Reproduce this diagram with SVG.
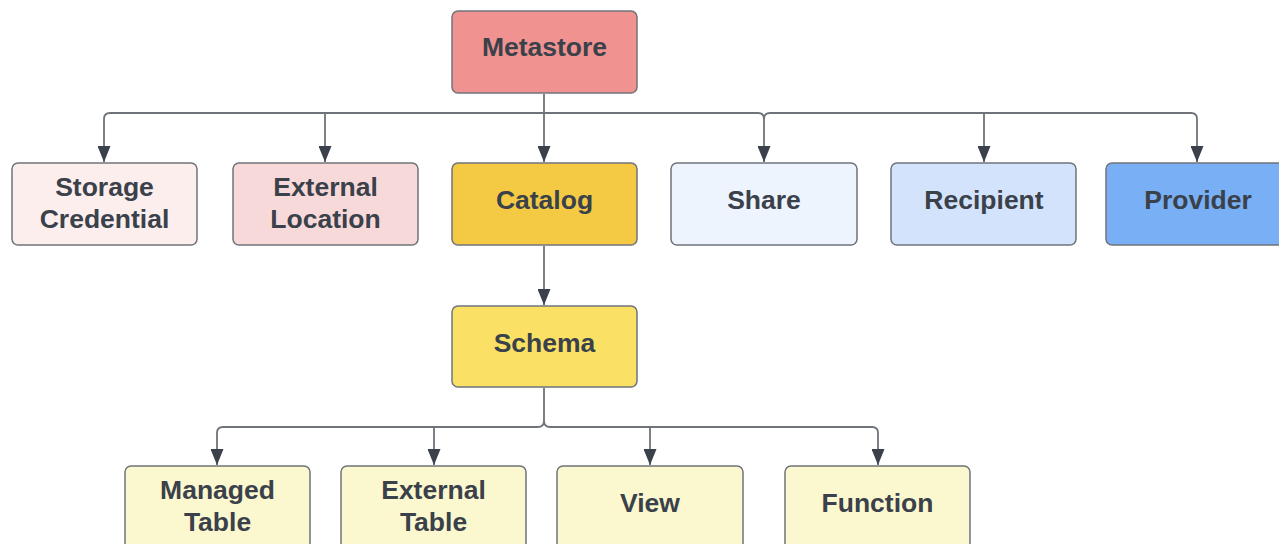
<svg xmlns="http://www.w3.org/2000/svg" width="1279" height="544" viewBox="0 0 1279 544">
<defs>
<style>
.box{stroke:#6f747b;stroke-width:1.5}
.lbl{font-family:"Liberation Sans",Arial,sans-serif;font-weight:bold;font-size:26.5px;fill:#3a414a;text-anchor:middle}
.ln{fill:none;stroke:#6f747b;stroke-width:1.8}
</style>
<marker id="ah" markerWidth="16" markerHeight="13" refX="16" refY="6.5" orient="auto" markerUnits="userSpaceOnUse" viewBox="0 0 16 13">
<path d="M0,0 L16,6.5 L0,13 Z" fill="#3a414a"/>
</marker>
</defs>
<rect width="1279" height="544" fill="#ffffff"/>
<g id="connectors">
<path class="ln" d="M544,94 V113"/>
<path class="ln" d="M544,113 V162" marker-end="url(#ah)"/>
<path class="ln" d="M758,113 H110 Q104,113 104,119 V162" marker-end="url(#ah)"/>
<path class="ln" d="M325,113 V162" marker-end="url(#ah)"/>
<path class="ln" d="M758,113 Q764,113 764,119 V162" marker-end="url(#ah)"/>
<path class="ln" d="M764,119 Q764,113 770,113 H1191 Q1197,113 1197,119 V162" marker-end="url(#ah)"/>
<path class="ln" d="M984,113 V162" marker-end="url(#ah)"/>
<path class="ln" d="M544,246 V305" marker-end="url(#ah)"/>
<path class="ln" d="M544,388 V421 Q544,427 538,427 H223 Q217,427 217,433 V465" marker-end="url(#ah)"/>
<path class="ln" d="M544,421 Q544,427 550,427 H872 Q878,427 878,433 V465" marker-end="url(#ah)"/>
<path class="ln" d="M434,427 V465" marker-end="url(#ah)"/>
<path class="ln" d="M650,427 V465" marker-end="url(#ah)"/>
</g>
<g id="metastore"><rect class="box" x="452" y="11" width="185" height="82" rx="6" fill="#f0928f"/><text class="lbl" x="544.5" y="56">Metastore</text></g>
<g id="storage-credential"><rect class="box" x="12" y="163" width="185" height="82" rx="6" fill="#fdeeee"/><text class="lbl" x="104.5" y="196">Storage</text><text class="lbl" x="104.5" y="228">Credential</text></g>
<g id="external-location"><rect class="box" x="233" y="163" width="185" height="82" rx="6" fill="#f8d9da"/><text class="lbl" x="325.5" y="196">External</text><text class="lbl" x="325.5" y="228">Location</text></g>
<g id="catalog"><rect class="box" x="452" y="163" width="185" height="82" rx="6" fill="#f4ca44"/><text class="lbl" x="544.5" y="209">Catalog</text></g>
<g id="share"><rect class="box" x="671" y="163" width="186" height="82" rx="6" fill="#edf4fe"/><text class="lbl" x="764" y="209">Share</text></g>
<g id="recipient"><rect class="box" x="891" y="163" width="185" height="82" rx="6" fill="#d3e3fb"/><text class="lbl" x="984" y="209">Recipient</text></g>
<g id="provider"><rect class="box" x="1106" y="163" width="185" height="82" rx="6" fill="#79aff5"/><text class="lbl" x="1198" y="209">Provider</text></g>
<g id="schema"><rect class="box" x="452" y="306" width="185" height="81" rx="6" fill="#fae165"/><text class="lbl" x="544.5" y="352">Schema</text></g>
<g id="managed-table"><rect class="box" x="125" y="466" width="185" height="84" rx="6" fill="#fbf8cf"/><text class="lbl" x="217.5" y="499">Managed</text><text class="lbl" x="217.5" y="531">Table</text></g>
<g id="external-table"><rect class="box" x="341" y="466" width="185" height="84" rx="6" fill="#fbf8cf"/><text class="lbl" x="433.5" y="499">External</text><text class="lbl" x="433.5" y="531">Table</text></g>
<g id="view"><rect class="box" x="557" y="466" width="186" height="84" rx="6" fill="#fbf8cf"/><text class="lbl" x="650" y="512">View</text></g>
<g id="function"><rect class="box" x="785" y="466" width="185" height="84" rx="6" fill="#fbf8cf"/><text class="lbl" x="877.5" y="512">Function</text></g>
</svg>
